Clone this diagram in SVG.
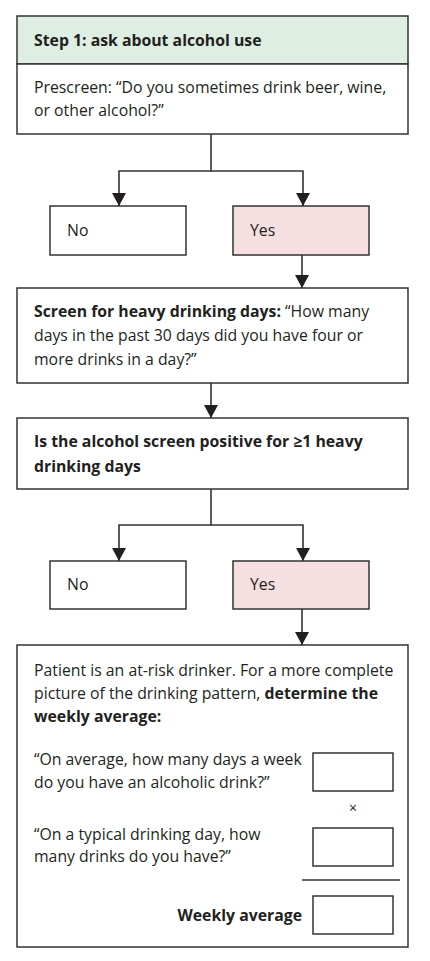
<svg xmlns="http://www.w3.org/2000/svg" width="430" height="961" viewBox="0 0 430 961">
<defs>
<marker id="ah" markerWidth="14" markerHeight="14" refX="13" refY="7" orient="auto" markerUnits="userSpaceOnUse" viewBox="0 0 14 14">
<path d="M0,0 L13,7 L0,14 Z" fill="#231f20"/>
</marker>
<style>
.box{fill:#fff;stroke:#333;stroke-width:1.5}
.green{fill:#dfeee3}
.pink{fill:#f5dfe0}
.t{font-family:"Open Sans","Noto Sans",sans-serif;font-size:15.8px;fill:#231f20}
.b{font-weight:bold}
.c{fill:none;stroke:#333;stroke-width:1.6}
</style>
</defs>
<rect width="430" height="961" fill="#fff"/>
<g id="step1">
<rect class="box green" x="17" y="16" width="391" height="48"/>
<text class="t b" x="34" y="46">Step 1: ask about alcohol use</text>
</g>
<g id="prescreen">
<rect class="box" x="17" y="64" width="391" height="70"/>
<text class="t" x="34" y="93">Prescreen: “Do you sometimes drink beer, wine,</text>
<text class="t" x="34" y="116">or other alcohol?”</text>
</g>
<g id="no1">
<rect class="box" x="50" y="206" width="136" height="49"/>
<text class="t" x="67" y="236">No</text>
</g>
<g id="yes1">
<rect class="box pink" x="233" y="206" width="136" height="49"/>
<text class="t" x="250" y="236">Yes</text>
</g>
<g id="screen">
<rect class="box" x="17" y="288" width="391" height="95"/>
<text class="t" x="34" y="317"><tspan class="b">Screen for heavy drinking days:</tspan> “How many</text>
<text class="t" x="34" y="341">days in the past 30 days did you have four or</text>
<text class="t" x="34" y="365">more drinks in a day?”</text>
</g>
<g id="positive">
<rect class="box" x="17" y="418" width="391" height="71"/>
<text class="t b" x="34" y="447">Is the alcohol screen positive for ≥1 heavy</text>
<text class="t b" x="34" y="472">drinking days</text>
</g>
<g id="no2">
<rect class="box" x="50" y="561" width="136" height="48"/>
<text class="t" x="67" y="590">No</text>
</g>
<g id="yes2">
<rect class="box pink" x="233" y="561" width="136" height="48"/>
<text class="t" x="250" y="590">Yes</text>
</g>
<g id="atrisk">
<rect class="box" x="17" y="645" width="391" height="302"/>
<text class="t" x="34" y="676">Patient is an at-risk drinker. For a more complete</text>
<text class="t" x="34" y="699">picture of the drinking pattern, <tspan class="b">determine the</tspan></text>
<text class="t b" x="34" y="722">weekly average:</text>
<text class="t" x="34" y="765">“On average, how many days a week</text>
<text class="t" x="34" y="788">do you have an alcoholic drink?”</text>
<rect class="box" x="313" y="753" width="80" height="38"/>
<text class="t" x="353" y="813" text-anchor="middle" style="font-size:14px">×</text>
<text class="t" x="34" y="840">“On a typical drinking day, how</text>
<text class="t" x="34" y="862">many drinks do you have?”</text>
<rect class="box" x="313" y="828" width="80" height="38"/>
<line x1="302" y1="880" x2="400" y2="880" stroke="#333" stroke-width="1.5"/>
<text class="t b" x="302" y="921" text-anchor="end">Weekly average</text>
<rect class="box" x="313" y="896" width="80" height="38"/>
</g>
<g id="connectors">
<path class="c" d="M211,134 V171 H119 V206" marker-end="url(#ah)"/>
<path class="c" d="M211,171 H303 V206" marker-end="url(#ah)"/>
<path class="c" d="M302,255 V288" marker-end="url(#ah)"/>
<path class="c" d="M211,383 V418" marker-end="url(#ah)"/>
<path class="c" d="M211,489 V525 H119 V561" marker-end="url(#ah)"/>
<path class="c" d="M211,525 H303 V561" marker-end="url(#ah)"/>
<path class="c" d="M302,609 V645" marker-end="url(#ah)"/>
</g>
</svg>
